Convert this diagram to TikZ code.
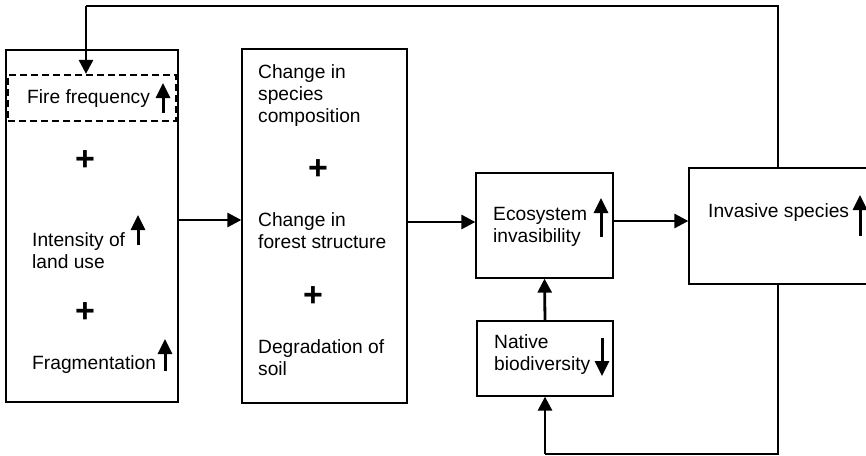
\documentclass[tikz,border=0pt]{standalone}
\usepackage{fontspec}
\setmainfont{Liberation Sans}
\usetikzlibrary{arrows.meta, positioning}
\newcommand{\trend}[3]{%
    \draw[trendarrow] (#1, #2) -- (#1, #3);
}

\begin{document}
\begin{tikzpicture}[x=1pt, y=-1pt,
    box/.style={draw, line width=1.3pt, inner sep=0pt},
    dashbox/.style={draw, line width=2.2pt, dash pattern=on 7pt off 4pt, inner sep=0pt},
    lbl/.style={anchor=west, inner sep=0pt, align=left, font=\fontsize{19.2}{22}\selectfont},
    plus/.style={inner sep=0pt, font=\fontsize{34}{34}\selectfont\bfseries},
    flow/.style={line width=2.8pt, -{Triangle[length=14pt, width=14pt]}},
    feed/.style={line width=1.5pt},
    trendarrow/.style={line width=3pt, -{Triangle[length=15pt, width=14pt]}}]

\useasboundingbox (0, 0) rectangle (866, 455);

% boxes
\node[box, minimum width=172pt, minimum height=352pt] (drivers) at (92, 226) {};
\node[dashbox, minimum width=168pt, minimum height=46pt] (fire) at (92, 98) {};
\node[box, minimum width=165pt, minimum height=354pt] (changes) at (324.5, 226) {};
\node[box, minimum width=137pt, minimum height=105pt] (eco) at (544.5, 225.5) {};
\node[box, minimum width=136pt, minimum height=75pt] (native) at (545, 358.5) {};
\node[box, minimum width=178pt, minimum height=116pt] (inv) at (778, 226) {};

% drivers
\node[lbl] (firetxt) at (27, 99) {Fire frequency};
\node[plus] (plusa) at (85, 161) {+};
\node[lbl] (landuse) at (32, 251) {Intensity of\\land use};
\node[plus] (plusb) at (85, 313) {+};
\node[lbl] (fragm) at (32, 365) {Fragmentation};
\trend{163}{113}{83}
\trend{138}{245}{215}
\trend{165}{371}{339}

% changes
\node[lbl] (species) at (258, 96) {Change in\\species\\composition};
\node[plus] (plusc) at (318, 170) {+};
\node[lbl] (forest) at (258, 231) {Change in\\forest structure};
\node[plus] (plusd) at (313, 297) {+};
\node[lbl] (soil) at (258, 358) {Degradation of\\soil};

% ecosystem, natives, invasives
\node[lbl] (ecotxt) at (493, 227) {Ecosystem\\invasibility};
\trend{601}{237}{198}
\node[lbl] (nativetxt) at (494, 355) {Native\\biodiversity};
\trend{602}{338}{376}
\node[lbl] (invtxt) at (708, 213) {Invasive species};
\trend{860}{236}{195}

% connectors
\draw[flow] ([yshift=6pt]drivers.east) -- ([yshift=6pt]drivers.east -| changes.west);
\draw[flow] ([yshift=4pt]changes.east) -- ([yshift=4pt]changes.east -| eco.west);
\draw[flow] ([yshift=4.5pt]eco.east) -- ([yshift=4.5pt]eco.east -| inv.west);
\draw[flow] (native.north) -- (eco.south);

% feedback loops
\coordinate (topturn) at (86, 6);
\coordinate (botturn) at (native.south |- 0, 454);
\draw[feed] (inv.north) |- (topturn);
\draw[flow] (topturn) -- (topturn |- fire.north);
\draw[feed] (inv.south) |- (botturn);
\draw[flow] (botturn) -- (native.south);
\end{tikzpicture}
\end{document}
